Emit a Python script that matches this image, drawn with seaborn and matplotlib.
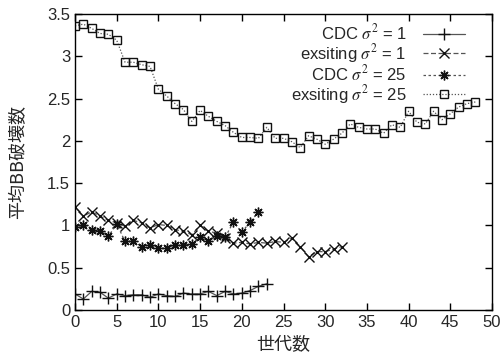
import numpy as np
import pandas as pd
import matplotlib
matplotlib.use("Agg")
import matplotlib.pyplot as plt
import seaborn as sns

# ---- data ----
cdc_1 = [0.19, 0.13, 0.22, 0.21, 0.14, 0.19, 0.17, 0.18, 0.18, 0.15,
         0.19, 0.17, 0.16, 0.20, 0.19, 0.19, 0.22, 0.17, 0.22, 0.19,
         0.20, 0.23, 0.28, 0.31]
exist_1 = [1.22, 1.11, 1.16, 1.11, 1.06, 1.03, 0.99, 1.06, 1.03, 0.97,
           1.01, 1.00, 0.95, 0.93, 0.89, 1.00, 0.93, 0.91, 0.85, 0.79,
           0.80, 0.78, 0.80, 0.79, 0.81, 0.80, 0.85, 0.75, 0.63, 0.69,
           0.69, 0.72, 0.75]
cdc_25 = [0.98, 1.00, 0.95, 0.94, 0.87, 1.02, 0.81, 0.81, 0.75, 0.77,
          0.73, 0.73, 0.77, 0.77, 0.78, 0.86, 0.81, 0.88, 0.86, 1.04,
          0.92, 1.04, 1.16]
exist_25 = [3.36, 3.38, 3.33, 3.27, 3.26, 3.19, 2.93, 2.93, 2.90, 2.88,
            2.61, 2.53, 2.44, 2.37, 2.23, 2.36, 2.29, 2.23, 2.18, 2.10,
            2.04, 2.04, 2.03, 2.16, 2.03, 2.03, 1.99, 1.92, 2.06, 2.02,
            1.96, 2.02, 2.09, 2.20, 2.16, 2.14, 2.14, 2.09, 2.19, 2.16,
            2.35, 2.22, 2.20, 2.35, 2.25, 2.32, 2.40, 2.44, 2.46]

labels = ["CDC $\\sigma^2$ = 1", "exsiting $\\sigma^2$ = 1",
          "CDC $\\sigma^2$ = 25", "exsiting $\\sigma^2$ = 25"]
x_ticks = list(range(0, 51, 5))
y_ticks = [0, 0.5, 1, 1.5, 2, 2.5, 3, 3.5]

# ---- style ----
sns.set_style("ticks")
plt.rcParams["font.family"] = ["Liberation Sans", "DejaVu Sans"]
plt.rcParams["mathtext.fontset"] = "stix"

fig = plt.figure(figsize=(5.0, 3.59), dpi=100)
ax = fig.add_axes([0.15, 0.1365, 0.834, 0.8245])

series = [cdc_1, exist_1, cdc_25, exist_25]
markers = ["+", "x", (8, 2, 0), "s"]
dashes = ["-", (0, (4, 2)), (0, (2, 2)), (0, (1, 1.5))]
msizes = [8, 7, 7, 6]

for vals, lab, mk, ls, ms in zip(series, labels, markers, dashes, msizes):
    x = np.arange(len(vals))
    sns.lineplot(
        x=x, y=vals, ax=ax, label=lab,
        color="#555555", linewidth=0.9, linestyle=ls,
        marker=mk, markersize=ms,
        markeredgecolor="#111111",
        markerfacecolor="none",
        markeredgewidth=1.0,
    )

ax.set_xlim(0, 50)
ax.set_ylim(0, 3.5)
ax.set_xticks(x_ticks)
ax.set_yticks(y_ticks)
ax.set_yticklabels(["0", "0.5", "1", "1.5", "2", "2.5", "3", "3.5"])
ax.tick_params(direction="in", top=True, right=True, length=5,
               labelsize=12, width=1, color="black")
for s in ax.spines.values():
    s.set_linewidth(1.0)
    s.set_color("black")

ax.set_xlabel("世代数", fontsize=13, family=["Noto Sans CJK JP", "DejaVu Sans"])
ax.set_ylabel("平均BB破壊数", fontsize=13, family=["Noto Sans CJK JP", "DejaVu Sans"],
              labelpad=14)

leg = ax.legend(loc="upper right", bbox_to_anchor=(0.955, 1.0),
                frameon=False, markerfirst=False,
                fontsize=12, handlelength=2.5, borderaxespad=0.1,
                labelspacing=-0.05, handletextpad=1.0)
for col in leg._legend_box.get_children()[1].get_children():
    col.align = "right"

plt.savefig("out.png", dpi=100)
